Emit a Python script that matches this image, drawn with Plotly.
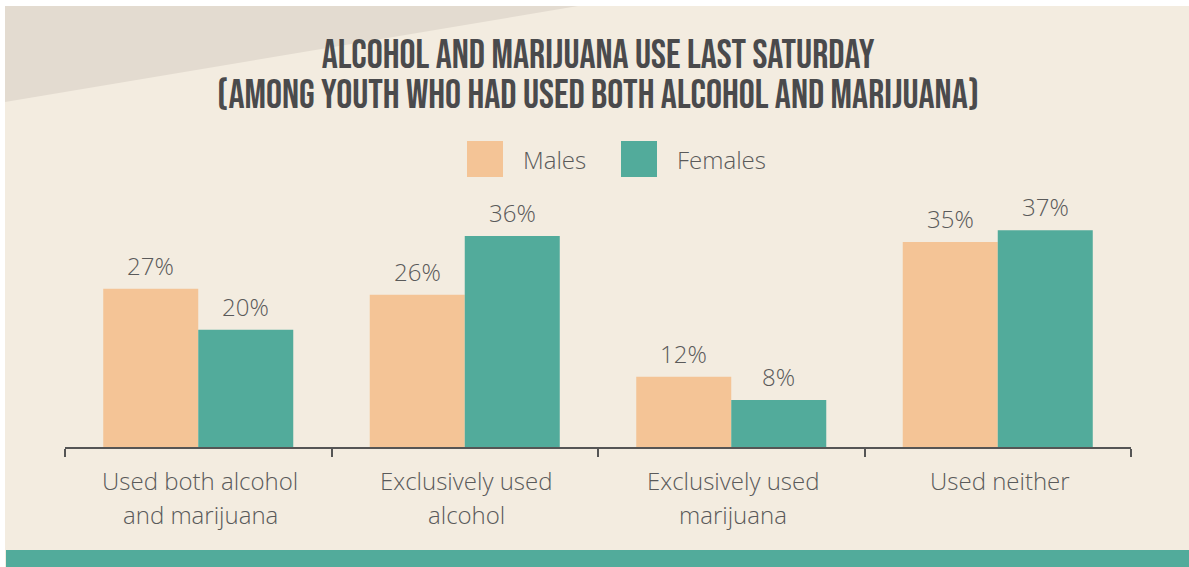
import plotly.graph_objects as go

categories = ["Used both alcohol<br>and marijuana", "Exclusively used<br>alcohol",
              "Exclusively used<br>marijuana", "Used neither"]
series_names = ["Males", "Females"]
males = [27, 26, 12, 35]
females = [20, 36, 8, 37]
series_values = [males, females]
colors = ["#f4c496", "#52ab9b"]
title_lines = ["ALCOHOL AND MARIJUANA USE LAST SATURDAY",
               "(AMONG YOUTH WHO HAD USED BOTH ALCOHOL AND MARIJUANA)"]

W, H = 1189, 567
L, R, T, B = 65, W - 1131, 200, H - 447
pw, ph = W - L - R, H - T - B

def px(x):
    return (x - L) / pw

def py(y):
    return (H - B - y) / ph

TXT = "#5a5a5a"
BODY = "Open Sans"
TITLE_FONT = "Bebas Neue, Oswald, Liberation Sans Narrow, DejaVu Sans Condensed, sans-serif"

fig = go.Figure()
for name, vals, col in zip(series_names, series_values, colors):
    fig.add_trace(go.Bar(x=categories, y=vals, name=name, marker_color=col,
                         marker_line_width=0, showlegend=False, hoverinfo="skip"))

shapes = [
    dict(type="rect", xref="paper", yref="paper", x0=px(5), x1=px(1200), y0=py(6), y1=py(580),
         fillcolor="#f3ece0", line_width=0, layer="below"),
    dict(type="path", xref="paper", yref="paper",
         path=f"M {px(5)} {py(6)} L {px(578)} {py(6)} L {px(5)} {py(102)} Z",
         fillcolor="#e3dbd0", line_width=0, layer="below"),
    dict(type="rect", xref="paper", yref="paper", x0=px(6), x1=px(1200), y0=py(550), y1=py(580),
         fillcolor="#52ab9b", line_width=0, layer="below"),
]
annotations = []

# title: one text, line spacing set by the base size, glyph size by the span
title_size = 40
line_gap = 39.5
title_html = "<br>".join(f"<span style='font-size:{title_size}px'>{t}</span>" for t in title_lines)
annotations.append(dict(xref="paper", yref="paper", x=px(598), y=py(75.5), text=title_html,
                        showarrow=False, xanchor="center", yanchor="middle",
                        font=dict(family=TITLE_FONT, size=line_gap / 1.3, color="#4a4a4c")))

# legend (drawn manually for large square swatches)
leg_x = [467, 621]
for name, col, lx in zip(series_names, colors, leg_x):
    shapes.append(dict(type="rect", xref="paper", yref="paper", x0=px(lx), x1=px(lx + 36),
                       y0=py(141), y1=py(177), fillcolor=col, line_width=0))
    annotations.append(dict(xref="paper", yref="paper", x=px(lx + 54), y=py(159), text=name,
                            showarrow=False, xanchor="left", yanchor="middle",
                            font=dict(family=BODY, size=24, color=TXT, weight=300)))

# value labels
shift = [-47.5, 47.5]
for vals, s in zip(series_values, shift):
    for c, v in zip(categories, vals):
        annotations.append(dict(x=c, y=v, xref="x", yref="y", text=f"{v}%", showarrow=False,
                                xanchor="center", yanchor="bottom", xshift=s, yshift=5,
                                font=dict(family=BODY, size=24, color=TXT, weight=300)))

# category labels (two lines with wide spacing)
for c in categories:
    for i, line in enumerate(c.split("<br>")):
        annotations.append(dict(x=c, y=0, xref="x", yref="y", text=line, showarrow=False,
                                xanchor="center", yanchor="middle", xshift=2, yshift=-33 - 34 * i,
                                font=dict(family=BODY, size=24, color=TXT, weight=300)))

fig.update_layout(
    width=W, height=H,
    margin=dict(l=L, r=R, t=T, b=B),
    paper_bgcolor="white", plot_bgcolor="rgba(0,0,0,0)",
    barmode="group", bargap=0.287, bargroupgap=0,
    xaxis=dict(showticklabels=False, showline=True, linecolor="#555555", linewidth=2,
               ticks="outside", tickson="boundaries", ticklen=8, tickwidth=2, tickcolor="#555555",
               showgrid=False, zeroline=False),
    yaxis=dict(range=[0, ph / 5.86], visible=False, showgrid=False, zeroline=False),
    shapes=shapes, annotations=annotations,
)
fig.write_html("out.html", config={"displayModeBar": False},
               post_script="document.body.style.margin='0';document.body.style.overflow='hidden';")
